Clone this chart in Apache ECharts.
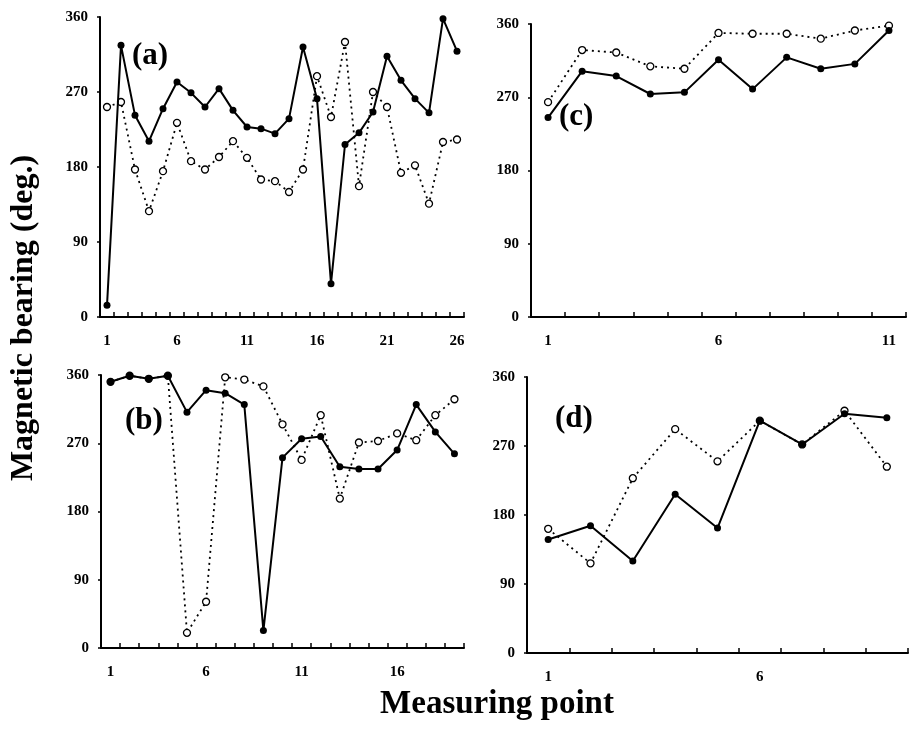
<!DOCTYPE html>
<html>
<head>
<meta charset="utf-8">
<script src="https://cdn.jsdelivr.net/npm/echarts@6/dist/echarts.min.js"></script>
<style>
  html, body { margin: 0; padding: 0; background: #fff; }
  #chart { width: 910px; height: 734px; }
</style>
</head>
<body>
<div id="chart"></div>
<script>
// panel (a)
let catsA = Array.from({length: 26}, (_, i) => String(i + 1));
let solidA = [14, 326, 242, 211, 250, 282, 269, 252, 274, 248, 228, 226, 220, 238, 324, 262, 40, 207, 221, 246, 313, 284, 262, 245, 358, 319];
let openA  = [252, 258, 177, 127, 175, 233, 187, 177, 192, 211, 191, 165, 163, 150, 177, 289, 240, 330, 157, 270, 252, 173, 182, 136, 210, 213];
// panel (b)
let catsB = Array.from({length: 19}, (_, i) => String(i + 1));
let solidB = [351, 359, 355, 359, 311, 340, 336, 321, 23, 251, 276, 279, 239, 236, 236, 261, 321, 285, 256];
let openB  = [351, 359, 355, 359, 20, 61, 357, 354, 345, 295, 248, 307, 197, 271, 273, 283, 274, 307, 328];
// panel (c)
let catsC = Array.from({length: 11}, (_, i) => String(i + 1));
let solidC = [245, 302, 296, 274, 276, 316, 280, 319, 305, 311, 352];
let openC  = [264, 328, 325, 308, 305, 349, 348, 348, 342, 352, 358];
// panel (d)
let catsD = Array.from({length: 9}, (_, i) => String(i + 1));
let solidD = [148, 166, 120, 207, 163, 303, 272, 312, 307];
let openD  = [162, 117, 228, 292, 250, 303, 272, 316, 243];

let yTicks = [0, 90, 180, 270, 360];
let panelNames = ['(a)', '(b)', '(c)', '(d)'];

const serif = "'Liberation Serif', 'Times New Roman', serif";

let chart = echarts.init(document.getElementById('chart'));

let grids = [
    {left: 100, top: 17, width: 364, height: 300},
    {left: 101, top: 375, width: 363, height: 273},
    {left: 531, top: 24, width: 375, height: 293},
    {left: 527, top: 377, width: 381, height: 276}
];

function xAxisFor(idx, cats){
    return {
        type: 'category',
        gridIndex: idx,
        data: cats,
        boundaryGap: true,
        axisLine: {lineStyle: {color: '#000', width: 2}},
        axisTick: {show: true, inside: true, length: 5, interval: 0, lineStyle: {color: '#000', width: 1.5}},
        axisLabel: {
            interval: 4,
            margin: 17,
            color: '#000',
            fontFamily: serif,
            fontWeight: 'bold',
            fontSize: 15
        },
        splitLine: {show: false}
    };
}

function yAxisFor(idx){
    return {
        type: 'value',
        gridIndex: idx,
        min: yTicks[0],
        max: yTicks[yTicks.length - 1],
        interval: 90,
        axisLine: {show: true, lineStyle: {color: '#000', width: 2}},
        axisTick: {show: true, length: 3, lineStyle: {color: '#000', width: 1.5}},
        axisLabel: {
            margin: 12,
            color: '#000',
            fontFamily: serif,
            fontWeight: 'bold',
            fontSize: 15
        },
        splitLine: {show: false}
    };
}

function solidSeries(idx, data){
    return {
        type: 'line',
        xAxisIndex: idx,
        yAxisIndex: idx,
        data: data,
        symbol: 'circle',
        symbolSize: 7,
        itemStyle: {color: '#000'},
        lineStyle: {color: '#000', width: 2},
        z: 3,
        animation: false
    };
}

function openSeries(idx, data){
    return {
        type: 'line',
        xAxisIndex: idx,
        yAxisIndex: idx,
        data: data,
        symbol: 'circle',
        symbolSize: 7,
        itemStyle: {color: '#fff', borderColor: '#000', borderWidth: 1.3},
        lineStyle: {color: '#000', width: 1.8, type: [2, 4]},
        z: 2,
        animation: false
    };
}

let labelPos = [
    {x: 132, y: 57},
    {x: 125, y: 422},
    {x: 559, y: 118},
    {x: 555, y: 420}
];

let graphics = panelNames.map((name, i) => ({
    type: 'text',
    left: labelPos[i].x,
    top: labelPos[i].y - 17,
    style: {
        text: name,
        font: 'bold 31px ' + serif,
        fill: '#000'
    }
}));

graphics.push({
    type: 'text',
    x: 24,
    y: 318,
    rotation: Math.PI / 2,
    style: {
        text: 'Magnetic bearing (deg.)',
        font: 'bold 32px ' + serif,
        fill: '#000',
        align: 'center',
        verticalAlign: 'middle'
    }
});
graphics.push({
    type: 'text',
    x: 497,
    y: 704,
    style: {
        text: 'Measuring point',
        font: 'bold 33px ' + serif,
        fill: '#000',
        align: 'center',
        verticalAlign: 'middle'
    }
});

let option = {
    backgroundColor: '#fff',
    animation: false,
    grid: grids,
    xAxis: [xAxisFor(0, catsA), xAxisFor(1, catsB), xAxisFor(2, catsC), xAxisFor(3, catsD)],
    yAxis: [yAxisFor(0), yAxisFor(1), yAxisFor(2), yAxisFor(3)],
    series: [
        openSeries(0, openA), solidSeries(0, solidA),
        openSeries(1, openB), solidSeries(1, solidB),
        openSeries(2, openC), solidSeries(2, solidC),
        openSeries(3, openD), solidSeries(3, solidD)
    ],
    graphic: graphics
};
chart.setOption(option);
</script>
</body>
</html>
